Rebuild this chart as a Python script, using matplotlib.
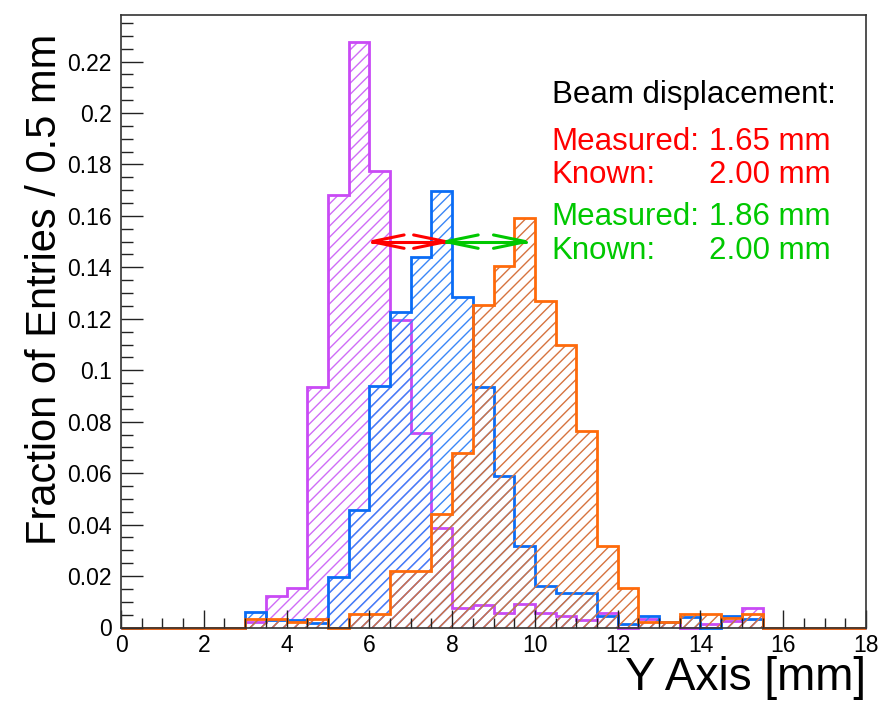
import numpy as np
import matplotlib
matplotlib.use("Agg")
import matplotlib.pyplot as plt
from matplotlib.ticker import MultipleLocator

plt.rcParams['font.family'] = ['Liberation Sans', 'DejaVu Sans']
plt.rcParams['hatch.linewidth'] = 1.0

# Histogram binning: 0.5 mm bins over 0-18 mm; non-empty range starts at 3.0 mm
x_min, x_max, bin_width = 0.0, 18.0, 0.5
first_bin_edge = 3.0

# Fractions of entries per bin, bins 3.0-3.5 ... 15.0-15.5 mm
frac_purple = [0.002, 0.0124, 0.0153, 0.0934, 0.168, 0.2275, 0.1776, 0.1196,
               0.0757, 0.0386, 0.0075, 0.0088, 0.0058, 0.009, 0.0056, 0.0045,
               0.0028, 0.0058, 0.0, 0.0033, 0.002, 0.0, 0.0015, 0.0025, 0.0077]
frac_blue = [0.0062, 0.003, 0.003, 0.0017, 0.0196, 0.0458, 0.094, 0.1225,
             0.144, 0.1698, 0.1284, 0.0936, 0.0589, 0.0315, 0.0162, 0.0133,
             0.0133, 0.0045, 0.0013, 0.0045, 0.002, 0.0042, 0.0, 0.0045, 0.0032]
frac_orange = [0.0033, 0.0033, 0.0022, 0.0033, 0.0, 0.0053, 0.0053, 0.0219,
               0.0219, 0.044, 0.0677, 0.1253, 0.1405, 0.1592, 0.1271, 0.110,
               0.0764, 0.0317, 0.0153, 0.0022, 0.002, 0.0053, 0.0053, 0.0036, 0.0053]

# Displacement arrows (start, end) in mm and their height
red_arrow = (6.06, 7.85)
green_arrow = (7.85, 9.78)
arrow_y = 0.15

edges = np.arange(x_min, x_max + bin_width / 2, bin_width)
n_bins = len(edges) - 1
offset = int(round((first_bin_edge - x_min) / bin_width))


def full_range(vals):
    arr = np.zeros(n_bins)
    arr[offset:offset + len(vals)] = vals
    return arr


series = [
    (frac_purple, '#c94af5', '#cf6cf7'),
    (frac_blue, '#0a6cf5', '#3b87f7'),
    (frac_orange, '#ff6a0a', '#d6733f'),
]

fig = plt.figure(figsize=(8.83, 7.01), dpi=100)
ax = fig.add_axes([121 / 883, 1 - 627.5 / 701, 745 / 883, 612.5 / 701])

for vals, line_c, hatch_c in series:
    v = full_range(vals)
    ax.stairs(v, edges, fill=True, facecolor='none', edgecolor=hatch_c,
              linewidth=0, hatch='///')
    ax.stairs(v, edges, color=line_c, linewidth=2.0, clip_on=False)

ax.set_xlim(x_min, x_max)
ax.set_ylim(0, 0.2381)

ax.xaxis.set_minor_locator(MultipleLocator(0.5))
ax.yaxis.set_minor_locator(MultipleLocator(0.005))

xt = np.arange(0, 19, 2)
ax.set_xticks(xt)
ax.set_xticklabels([f"{t:g}" for t in xt])
yt = np.round(np.arange(0, 0.2301, 0.02), 2)
ax.set_yticks(yt)
ax.set_yticklabels([f"{t:g}" for t in yt])

ax.tick_params(axis='both', which='both', direction='in', colors='#222222',
               labelcolor='black', labelsize=16.5, width=1.0)
ax.tick_params(axis='y', which='major', length=16, pad=6.5)
ax.tick_params(axis='y', which='minor', length=8.5)
ax.tick_params(axis='x', which='major', length=13, pad=5)
ax.tick_params(axis='x', which='minor', length=7)
for s in ax.spines.values():
    s.set_color('#333333')
    s.set_linewidth(1.2)

ax.set_xlabel("Y Axis [mm]", fontsize=33, ha='right', va='baseline')
ax.xaxis.set_label_coords(1.0, -0.1015)
ax.set_ylabel("Fraction of Entries / 0.5 mm", fontsize=30, ha='right', y=0.97,
              labelpad=1.5)

# Displacement arrows: shaft plus open heads at both ends
head_len = 0.78      # mm
head_half = 0.0026   # fraction units
for (x0, x1), c in [(red_arrow, '#ff0000'), (green_arrow, '#00c800')]:
    kw = dict(color=c, lw=2.2, solid_capstyle='round', solid_joinstyle='miter')
    ax.plot([x0, x1], [arrow_y, arrow_y], **kw)
    ax.plot([x0 + head_len, x0, x0 + head_len],
            [arrow_y + head_half, arrow_y, arrow_y - head_half], **kw)
    ax.plot([x1 - head_len, x1, x1 - head_len],
            [arrow_y + head_half, arrow_y, arrow_y - head_half], **kw)

# Annotation block
tx_label, tx_value = 10.41, 14.2
fs = 22.5
ax.text(tx_label, 0.2039, "Beam displacement:", fontsize=fs, color='black',
        va='baseline', ha='left')
rows = [
    (0.1857, "Measured:", "1.65 mm", '#ff0000'),
    (0.1729, "Known:", "2.00 mm", '#ff0000'),
    (0.1565, "Measured:", "1.86 mm", '#00c800'),
    (0.1433, "Known:", "2.00 mm", '#00c800'),
]
for y, lab, val, c in rows:
    ax.text(tx_label, y, lab, fontsize=fs, color=c, va='baseline', ha='left')
    ax.text(tx_value, y, val, fontsize=fs, color=c, va='baseline', ha='left')

fig.savefig("out.png", dpi=100)
